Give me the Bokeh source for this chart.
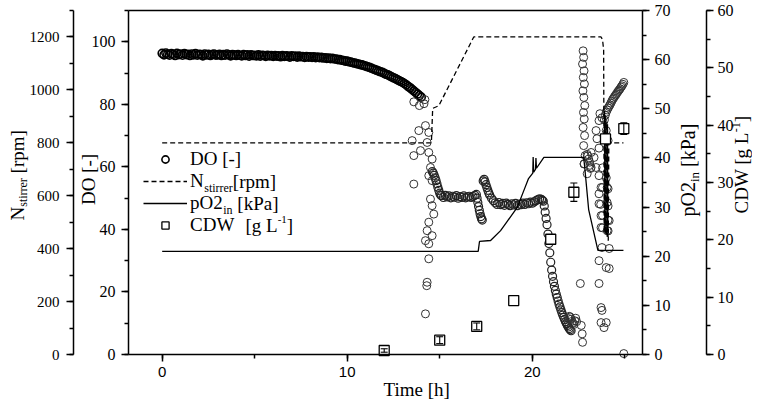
import math
from bokeh.plotting import figure
from bokeh.models import (Range1d, LinearAxis, SingleIntervalTicker, FixedTicker, Legend,
                          LegendItem, Label)
from bokeh.embed import file_html
from bokeh.resources import INLINE

# ---------------- data ----------------
# DO [-] : dense start phase
do_a_t = [0.0, 0.1, 0.2, 0.3, 0.4, 0.5, 0.6, 0.7, 0.8, 0.9, 1.0,
          1.1, 1.2, 1.3, 1.4, 1.5, 1.6, 1.7, 1.8, 1.9, 2.0,
          2.1, 2.2, 2.3, 2.4, 2.5, 2.6, 2.7, 2.8, 2.9, 3.0,
          3.1, 3.2, 3.3, 3.4, 3.5, 3.6, 3.7, 3.8, 3.9, 4.0,
          4.1, 4.2, 4.3, 4.4, 4.5, 4.6, 4.7, 4.8, 4.9, 5.0,
          5.1, 5.2, 5.3, 5.4, 5.5, 5.6, 5.7, 5.8, 5.9, 6.0,
          6.1, 6.2, 6.3, 6.4, 6.5, 6.6, 6.7, 6.8, 6.9, 7.0,
          7.1, 7.2, 7.3, 7.4, 7.5, 7.6, 7.7, 7.8, 7.9, 8.0,
          8.1, 8.2, 8.3, 8.4, 8.5, 8.6, 8.7, 8.8, 8.9, 9.0,
          9.1, 9.2, 9.3, 9.4, 9.5, 9.6, 9.7, 9.8, 9.9, 10.0,
          10.1, 10.2, 10.3, 10.4, 10.5, 10.6, 10.7, 10.8, 10.9, 11.0,
          11.1, 11.2, 11.3, 11.4, 11.5, 11.6, 11.7, 11.8, 11.9, 12.0,
          12.1, 12.2, 12.3, 12.4, 12.5, 12.6, 12.7, 12.8, 12.9, 13.0,
          13.1, 13.2, 13.3, 13.4, 13.5, 13.6, 13.7, 13.8, 13.9, 14.0]
do_a_v = [96.3, 95.8, 96.4, 96.0, 95.7, 96.2, 96.0, 95.6, 96.3, 95.9, 96.1,
          95.7, 96.2, 95.9, 96.0, 95.6, 96.1, 95.8, 96.2, 95.7, 96.0,
          95.9, 95.5, 96.1, 95.8, 96.0, 95.6, 95.9, 96.1, 95.7, 95.8,
          96.0, 95.6, 95.9, 95.7, 96.1, 95.8, 95.5, 95.9, 95.8, 95.6,
          95.9, 95.7, 95.5, 95.9, 95.6, 95.8, 95.4, 95.8, 95.6, 95.7,
          95.5, 95.8, 95.4, 95.7, 95.6, 95.3, 95.7, 95.5, 95.6, 95.3,
          95.6, 95.4, 95.5, 95.2, 95.6, 95.3, 95.5, 95.4, 95.1, 95.5,
          95.3, 95.4, 95.1, 95.4, 95.2, 95.3, 95.0, 95.3, 95.1, 95.2,
          95.0, 95.2, 94.9, 95.1, 94.9, 95.0, 94.8, 94.9, 94.7, 94.8,
          94.6, 94.7, 94.5, 94.5, 94.3, 94.3, 94.1, 94.0, 93.8, 93.8,
          93.6, 93.5, 93.3, 93.2, 93.0, 92.9, 92.7, 92.6, 92.4, 92.2,
          92.0, 91.8, 91.6, 91.3, 91.1, 90.9, 90.6, 90.4, 90.2, 89.9,
          89.6, 89.4, 89.1, 88.8, 88.5, 88.2, 87.9, 87.6, 87.3, 87.0,
          86.6, 86.2, 85.7, 85.3, 84.8, 84.3, 83.8, 83.3, 82.8, 82.3]
# DO scattered points around the first stirrer step
do_b_t = [13.6, 13.9, 14.15, 14.2, 13.87, 14.23, 14.41, 14.32, 13.96, 13.6, 13.51,
          14.41, 14.59, 14.5, 14.41, 14.59, 13.6, 14.5, 14.59, 14.68, 14.41, 14.32,
          14.59, 14.23, 14.41, 14.41, 14.32, 14.3, 14.23]
do_b_v = [80.8, 79.6, 80.2, 81.5, 71.6, 73.2, 71.0, 67.8, 65.2, 63.6, 68.4,
          64.6, 62.5, 59.8, 57.2, 55.6, 54.5, 49.7, 47.6, 44.9, 42.3, 39.6,
          38.0, 36.4, 35.4, 30.6, 23.1, 22.0, 13.0]
# DO first plateau and hook
do_c_t = [14.6, 14.65, 14.7, 14.75, 14.8, 14.85, 14.9, 14.95, 15.0, 15.05,
          15.1, 15.2, 15.3, 15.4, 15.5, 15.6, 15.7, 15.8, 15.9, 16.0,
          16.1, 16.2, 16.3, 16.4, 16.5, 16.6, 16.7, 16.8, 16.9,
          16.98, 17.02, 17.06, 17.1, 17.14, 17.18, 17.22, 17.26, 17.3]
do_c_v = [58.5, 58.0, 57.3, 56.5, 55.6, 54.6, 53.5, 52.5, 51.6, 51.0,
          50.8, 50.2, 50.9, 50.4, 50.7, 50.1, 50.6, 50.3, 50.8, 50.0,
          50.5, 50.2, 50.7, 50.1, 50.4, 50.6, 50.2, 50.5, 50.9,
          51.2, 50.0, 48.6, 47.3, 46.1, 45.0, 44.1, 43.4, 43.0]
# DO second plateau and the decline
do_d_t = [17.35, 17.4, 17.45, 17.5, 17.55, 17.6, 17.65, 17.7, 17.8, 17.9,
          18.0, 18.1, 18.2, 18.3, 18.4, 18.5, 18.6, 18.7, 18.8, 18.9, 19.0,
          19.1, 19.2, 19.3, 19.4, 19.5, 19.6, 19.7, 19.8, 19.9, 20.0,
          20.1, 20.2, 20.3, 20.4, 20.5, 20.55,
          20.6, 20.65, 20.7, 20.75, 20.8, 20.85, 20.9, 20.95, 21.0, 21.05,
          21.1, 21.15, 21.2, 21.25, 21.3, 21.35, 21.4, 21.45, 21.5, 21.55,
          21.6, 21.65, 21.7, 21.75, 21.8, 21.85, 21.9, 21.95, 22.0, 22.05, 22.1]
do_d_v = [55.5, 56.0, 55.2, 54.3, 53.4, 52.5, 51.7, 51.0, 50.0, 49.2,
          48.5, 48.0, 48.6, 47.9, 48.3, 47.7, 48.4, 48.0, 47.6, 48.2, 47.8,
          48.3, 47.6, 48.1, 47.9, 48.4, 48.0, 48.5, 48.2, 48.7, 48.4,
          48.8, 49.2, 49.5, 49.8, 49.6, 49.3,
          49.0, 47.5, 45.5, 43.5, 41.5, 38.5, 35.5, 32.5, 29.5, 27.0,
          25.0, 23.3, 21.8, 20.5, 19.3, 18.2, 17.1, 16.1, 15.2, 14.3,
          13.4, 12.6, 11.9, 11.2, 10.5, 9.9, 9.3, 8.8, 8.3, 7.9, 7.6]
# DO low cluster
do_e_t = [21.95, 22.0, 22.05, 22.1, 22.15, 22.2, 22.25, 22.3, 22.35, 22.4, 22.6, 22.65, 22.7, 22.72]
do_e_v = [11.5, 12.2, 12.0, 11.3, 10.6, 10.0, 9.6, 10.8, 11.6, 10.5, 22.7, 9.3, 6.6, 3.9]
# DO oscillating end phase
do_f_t = [22.75, 22.78, 22.72, 22.8, 22.76, 22.82, 22.74, 22.79, 22.84, 22.77, 22.81, 22.75, 22.83, 22.78, 22.86, 22.8,
          22.81, 22.97, 23.18, 23.34, 23.18, 23.45, 22.97, 23.61, 23.5, 23.45, 23.61, 23.77,
          23.0, 23.05, 23.1, 23.12, 23.15,
          23.61, 23.72, 23.61, 24.05, 23.61, 24.05, 23.72, 24.16, 23.72, 24.05,
          23.77, 24.16, 23.61, 24.0, 24.16, 23.61, 23.72, 23.77, 23.72, 24.0, 23.88,
          23.66, 24.0, 24.1, 23.8, 24.0, 23.8, 24.1, 23.7, 24.1, 23.8, 24.1, 23.8, 24.1]
do_f_v = [97.1, 95.0, 92.9, 90.7, 88.6, 86.5, 84.3, 82.2, 79.6, 77.4, 75.3, 72.6, 70.0, 66.8, 63.6, 60.9,
          61.0, 64.0, 64.6, 63.0, 59.8, 59.8, 57.8, 66.0, 69.0, 71.6, 74.8, 75.7,
          63.5, 62.5, 61.5, 60.5, 59.5,
          57.2, 53.4, 51.4, 53.4, 48.2, 48.6, 44.4, 42.8, 40.6, 39.6,
          34.2, 33.9, 30.0, 27.8, 27.5, 22.7, 15.0, 14.1, 10.2, 10.2, 8.6,
          77.0, 71.6, 68.4, 59.7, 56.5, 53.4, 53.0, 48.0, 47.5, 44.5, 43.0, 40.5, 39.5]
# DO final rise
do_g_t = [23.9, 23.95, 24.0, 24.05, 24.1, 24.15, 24.2, 24.25, 24.3, 24.35, 24.4,
          24.45, 24.5, 24.55, 24.6, 24.65, 24.7, 24.75, 24.8, 24.85, 24.9, 24.95, 24.95]
do_g_v = [75.0, 76.5, 77.5, 78.2, 78.8, 79.3, 79.8, 80.4, 81.0, 81.6, 82.0,
          82.5, 82.9, 83.3, 83.8, 84.2, 84.6, 85.0, 85.5, 85.9, 86.4, 87.0, 0.3]

# N_stirrer [rpm]
n_t = [0, 14.55, 14.62, 14.95, 16.84, 23.72, 23.8, 23.86, 23.87, 23.89, 23.91, 23.93, 23.95,
       23.97, 23.99, 24.01, 24.03, 24.05, 24.07, 24.09, 24.11, 24.14, 24.93]
n_v = [800, 800, 930, 940, 1200, 1200, 1190, 1150, 930, 460, 920, 470, 900,
       455, 890, 450, 880, 445, 870, 440, 430, 800, 800]

# pO2_in [kPa]
p_t = [0, 17.08, 17.15, 17.75, 18.29, 18.65, 19.2, 19.55, 19.8, 20.03, 20.05, 20.08,
       20.18, 20.2, 20.23, 20.63, 22.78, 22.84, 23.05, 23.55, 24.93]
p_v = [21, 21, 23, 23.2, 25.2, 27.1, 30, 33.4, 35.8, 36.9, 40.2, 37.1,
       37.7, 40, 37.9, 40.1, 40.1, 38, 29.5, 21.2, 21.2]

# CDW [g/L] with error
cdw_t = [12, 15, 17, 19, 21, 22.25, 23.96, 24.95]
cdw_v = [0.7, 2.5, 4.9, 9.4, 20.1, 28.3, 37.6, 39.4]
cdw_e = [0.3, 0.6, 0.6, 0.0, 0.0, 1.6, 0.0, 1.0]

# axis extents
T_LIM = (-1.82, 25.96)
DO_LIM = (0, 110)
N_LIM = (0, 1300)
P_LIM = (0, 70)
C_LIM = (0, 60)

# ---------------- geometry: the frame fills the canvas, the axes sit at fixed places ----------------
SERIF = "Liberation Serif"
SANS = "Liberation Sans"
W, H = 752, 400
FL, FR, FT, FB = 128, 642, 10, 354      # the boxed plotting area on the canvas
SX = (FR - FL) / (T_LIM[1] - T_LIM[0])


def x_of(px):
    return T_LIM[0] + (px - FL) / SX


def full_range(lim):
    s = (FB - FT) / (lim[1] - lim[0])
    return Range1d(lim[0] - (H - FB) / s, lim[1] + FT / s)


p = figure(width=W, height=H, x_range=Range1d(x_of(0), x_of(W)), y_range=full_range(DO_LIM),
           x_axis_location=None, y_axis_location=None, min_border=0,
           output_backend="svg", toolbar_location=None)
p.extra_y_ranges = {"rpm": full_range(N_LIM), "kpa": full_range(P_LIM), "cdw": full_range(C_LIM)}
p.xgrid.visible = False
p.ygrid.visible = False
p.outline_line_color = None
p.background_fill_color = "white"
p.border_fill_color = "white"


def style(ax, interval, font, size, standoff):
    ax.ticker = SingleIntervalTicker(interval=interval, num_minor_ticks=2)
    ax.axis_line_color = "black"
    ax.axis_line_width = 1.5
    ax.major_tick_line_color = "black"
    ax.major_tick_line_width = 1.5
    ax.minor_tick_line_color = "black"
    ax.minor_tick_line_width = 1.5
    ax.major_tick_in = 0
    ax.major_tick_out = 7
    ax.minor_tick_in = 0
    ax.minor_tick_out = 4
    ax.major_label_text_font = font
    ax.major_label_text_font_size = f"{size}px"
    ax.major_label_text_color = "black"
    ax.major_label_standoff = standoff


# time axis (bottom of the box)
xax = LinearAxis(fixed_location=DO_LIM[0], bounds=T_LIM)
style(xax, 10, SANS, 15, 5)
p.add_layout(xax, "below")

# top edge of the box
top = LinearAxis(fixed_location=DO_LIM[1], bounds=T_LIM,
                 ticker=FixedTicker(ticks=[], minor_ticks=[]))
top.axis_line_color = "black"
top.axis_line_width = 1.5
p.add_layout(top, "above")

# DO axis (left edge of the box)
doax = LinearAxis(fixed_location=T_LIM[0], bounds=DO_LIM)
style(doax, 20, SERIF, 16, 6)
p.add_layout(doax, "left")

# stirrer axis (outer left)
nax = LinearAxis(y_range_name="rpm", fixed_location=x_of(73), bounds=N_LIM)
style(nax, 200, SERIF, 15, 7)
p.add_layout(nax, "left")

# pO2 axis (right edge of the box)
pax = LinearAxis(y_range_name="kpa", fixed_location=T_LIM[1], bounds=P_LIM)
style(pax, 10, SERIF, 16, 5)
p.add_layout(pax, "right")

# CDW axis (outer right)
cax = LinearAxis(y_range_name="cdw", fixed_location=x_of(706), bounds=C_LIM)
style(cax, 10, SERIF, 16, 4)
p.add_layout(cax, "right")

# ---------------- glyphs ----------------
r_do = p.scatter(do_a_t, do_a_v, marker="circle", size=8, fill_alpha=0,
                 line_color="black", line_width=1.6)
p.scatter(do_c_t + do_d_t, do_c_v + do_d_v, marker="circle", size=8, fill_alpha=0,
          line_color="#222222", line_width=1.2)
p.scatter(do_b_t + do_e_t + do_f_t + do_g_t, do_b_v + do_e_v + do_f_v + do_g_v,
          marker="circle", size=8, fill_alpha=0, line_color="#333333", line_width=1.0)
r_n = p.line(n_t, n_v, y_range_name="rpm", line_color="black", line_width=1.3, line_dash="5 3")
r_p = p.line(p_t, p_v, y_range_name="kpa", line_color="black", line_width=1.3)
r_c = p.scatter(cdw_t, cdw_v, y_range_name="cdw", marker="square", size=10,
                fill_color="white", line_color="black", line_width=1.3)

eb_t = [t for t, e in zip(cdw_t, cdw_e) if e > 0]
eb_lo = [v - e for v, e in zip(cdw_v, cdw_e) if e > 0]
eb_hi = [v + e for v, e in zip(cdw_v, cdw_e) if e > 0]
p.segment(x0=eb_t, y0=eb_lo, x1=eb_t, y1=eb_hi, y_range_name="cdw",
          line_color="black", line_width=1.1)
p.scatter(eb_t, eb_lo, marker="dash", size=7, y_range_name="cdw", line_color="black", line_width=1.1)
p.scatter(eb_t, eb_hi, marker="dash", size=7, y_range_name="cdw", line_color="black", line_width=1.1)

# ---------------- legend ----------------
legend = Legend(items=[LegendItem(label="DO [-]", renderers=[r_do]),
                       LegendItem(label="N", renderers=[r_n]),
                       LegendItem(label="pO2", renderers=[r_p]),
                       LegendItem(label="CDW", renderers=[r_c])],
                location=(143, H - 236), orientation="vertical", padding=0, spacing=0, margin=0,
                glyph_width=44, glyph_height=18, label_height=22, label_standoff=3,
                border_line_color=None, background_fill_alpha=0,
                label_text_font=SERIF, label_text_font_size="19px", label_text_color="black")
p.add_layout(legend)

# ---------------- texts (titles with real sub/superscripts) ----------------
ADV = {'N': 722, 's': 389, 't': 278, 'i': 278, 'r': 333, 'e': 444, ' ': 250, '[': 333, ']': 333,
       'p': 500, 'm': 778, 'O': 722, '2': 500, 'n': 500, 'k': 500, 'P': 556, 'a': 444,
       'C': 667, 'D': 722, 'W': 944, 'g': 500, 'L': 611, '-': 333, '1': 500}


def tw(s, size):
    return sum(ADV[c] for c in s) / 1000.0 * size


def put(xp, yp, text, size, angle=0.0, align="left"):
    # canvas pixel position -> screen units of the (canvas filling) frame
    p.add_layout(Label(x=xp, y=H - yp, x_units="screen", y_units="screen",
                       text=text, angle=angle, text_align=align, text_baseline="middle",
                       text_font=SERIF, text_font_size=f"{size}px", text_color="black"))


def hchain(x0, yc, pieces):
    x = x0
    for text, size, dy, gap in pieces:
        put(x, yc + dy, text, size)
        x += tw(text, size) + gap


def vchain(xc, y0, pieces):
    y = y0
    for text, size, dx, gap in pieces:
        put(xc + dx, y, text, size, math.pi / 2)
        y -= tw(text, size) + gap


# legend continuation
hchain(190 + tw("N", 19), 181, [("stirrer", 12, 6, 0), ("[rpm]", 19, 0, 0)])
hchain(190 + tw("pO2", 19), 203, [("in", 12, 6, 4.75), ("[kPa]", 19, 0, 0)])
hchain(245, 225, [("[g L", 19, 0, 0), ("-1", 11, -6, 0), ("]", 19, 0, 0)])

# axis titles
vchain(16.5, 220, [("N", 19, 0, 0), ("stirrer", 12, 5.5, 4.75), ("[rpm]", 19, 0, 0)])
put(88, 179, "DO [-]", 19, math.pi / 2, "center")
vchain(687.5, 216, [("pO2", 20, 0, 0), ("in", 13, 6.5, 5), ("[kPa]", 20, 0, 0)])
vchain(741, 213, [("CDW [g L", 19, 0, 0), ("-1", 12, -5.5, 0), ("]", 19, 0, 0)])
put(383, 389, "Time [h]", 19)

open("out.html", "w").write(file_html(p, INLINE))
